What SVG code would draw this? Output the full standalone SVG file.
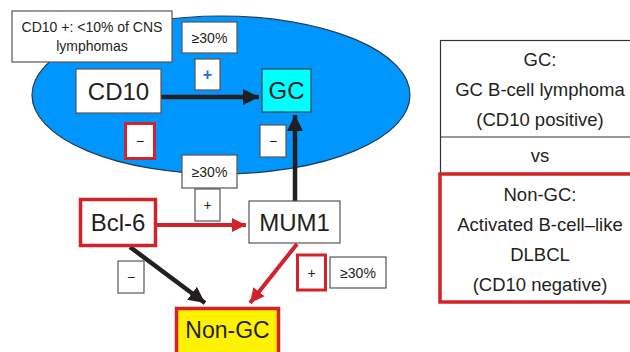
<svg xmlns="http://www.w3.org/2000/svg" width="630" height="352" viewBox="0 0 630 352">
<defs>
<marker id="ahk" markerWidth="4" markerHeight="4" refX="3.6" refY="2" orient="auto" markerUnits="strokeWidth"><path d="M0,0.2 L3.6,2 L0,3.8 Z" fill="#231f20"/></marker>
<marker id="ahr" markerWidth="4" markerHeight="4" refX="3.6" refY="2" orient="auto" markerUnits="strokeWidth"><path d="M0,0.2 L3.6,2 L0,3.8 Z" fill="#d2232a"/></marker>
<style>
text{font-family:"Liberation Sans",Arial,sans-serif;fill:#231f20;text-anchor:middle}
.box{fill:#fff;stroke:#555;stroke-width:1.2}
.big{font-size:24px}
.sm{font-size:14px}
.mid{font-size:18.5px}
.k{stroke:#231f20;stroke-width:4.5;fill:none}
.r{stroke:#d2232a;stroke-width:4;fill:none}
.blue{fill:#1f6fd8;font-size:16px;font-weight:bold}
</style>
</defs>
<g id="ellipse"><ellipse cx="221" cy="95" rx="189" ry="79" fill="#0096ff" stroke="#2a3a4a" stroke-width="1.2"/></g>
<g id="connectors">
<line class="k" x1="161" y1="97" x2="259" y2="97" marker-end="url(#ahk)"/>
<line class="k" x1="295" y1="201" x2="295" y2="115" marker-end="url(#ahk)"/>
<line class="r" x1="157" y1="225" x2="246" y2="225" marker-end="url(#ahr)"/>
<line class="k" x1="130" y1="247" x2="205" y2="303" marker-end="url(#ahk)"/>
<line class="r" x1="297" y1="244" x2="250" y2="303" marker-end="url(#ahr)"/>
</g>
<g id="note"><rect class="box" x="12" y="11" width="160" height="51"/><text class="sm" x="92" y="32">CD10 +: &lt;10% of CNS</text><text class="sm" x="92" y="51">lymphomas</text></g>
<g id="lbl1"><rect class="box" x="182" y="22" width="55" height="31"/><text class="sm" x="209.5" y="43">≥30%</text></g>
<g id="lbl2"><rect class="box" x="195" y="59" width="25" height="31"/><text class="blue" x="207.5" y="80">+</text></g>
<g id="cd10"><rect class="box" x="76" y="69" width="85" height="44"/><text class="big" x="118.5" y="100">CD10</text></g>
<g id="gc"><rect x="262" y="69" width="49" height="43" fill="#00ffff" stroke="#444" stroke-width="1.2"/><text class="big" x="286.5" y="99">GC</text></g>
<g id="lbl3"><rect x="125.5" y="123.5" width="29" height="35" fill="#fff" stroke="#d2232a" stroke-width="3"/><text class="sm" x="140" y="146">−</text></g>
<g id="lbl4"><rect class="box" x="260" y="125" width="26" height="32"/><text class="sm" x="273" y="146">−</text></g>
<g id="lbl5"><rect class="box" x="182" y="155" width="55" height="33"/><text class="sm" x="209.5" y="177">≥30%</text></g>
<g id="lbl6"><rect class="box" x="195" y="189" width="25" height="32"/><text class="sm" x="207.5" y="210">+</text></g>
<g id="bcl6"><rect x="80.5" y="199.5" width="75" height="46" fill="#fff" stroke="#d2232a" stroke-width="3.5"/><text class="big" x="118" y="231">Bcl-6</text></g>
<g id="mum1"><rect class="box" x="249" y="201" width="91" height="42"/><text class="big" x="294.5" y="231">MUM1</text></g>
<g id="lbl7"><rect class="box" x="118" y="261" width="26" height="32"/><text class="sm" x="131" y="282">−</text></g>
<g id="lbl8"><rect x="297.5" y="255" width="28" height="35" fill="#fff" stroke="#d2232a" stroke-width="3"/><text class="sm" x="311.5" y="278">+</text></g>
<g id="lbl9"><rect class="box" x="330" y="257" width="56" height="31"/><text class="sm" x="358" y="278">≥30%</text></g>
<g id="nongc"><rect x="176.5" y="308.5" width="102" height="50" fill="#fff200" stroke="#d2232a" stroke-width="3.5"/><text class="big" x="227.5" y="338" style="font-size:23px">Non-GC</text></g>
<g id="panel">
<rect x="440.5" y="40.5" width="200" height="133" fill="#fff" stroke="#333" stroke-width="1.2"/>
<line x1="440.5" y1="137" x2="630" y2="137" stroke="#333" stroke-width="1.2"/>
<text class="mid" x="540" y="66">GC:</text>
<text class="mid" x="540" y="96">GC B-cell lymphoma</text>
<text class="mid" x="540" y="126">(CD10 positive)</text>
<text class="mid" x="540" y="162">vs</text>
<rect x="440" y="174" width="200" height="128" fill="#fff" stroke="#d2232a" stroke-width="3.5"/>
<text class="mid" x="540" y="201">Non-GC:</text>
<text class="mid" x="540" y="231">Activated B-cell–like</text>
<text class="mid" x="540" y="261">DLBCL</text>
<text class="mid" x="540" y="291">(CD10 negative)</text>
</g>
</svg>
